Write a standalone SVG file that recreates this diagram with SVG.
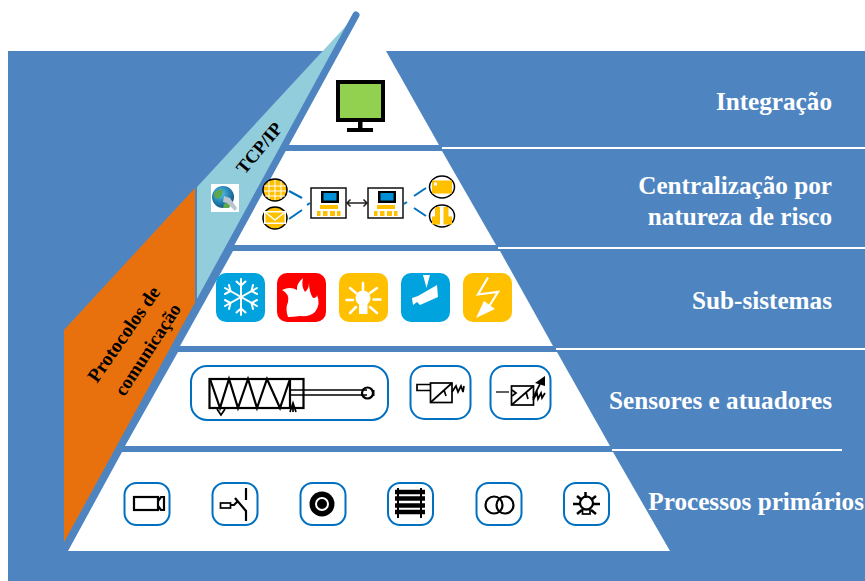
<svg xmlns="http://www.w3.org/2000/svg" width="865" height="581" viewBox="0 0 865 581">
<defs>
<style>
.lab{font-family:"Liberation Serif","Times New Roman",serif;font-weight:700;font-size:25.2px;fill:#fff;text-anchor:end}
.rot{font-family:"Liberation Serif","Times New Roman",serif;font-weight:700;fill:#000;text-anchor:middle}
.band{fill:#fff}
.frame{fill:#fff;stroke:#0070C0;stroke-width:2}
.tile{stroke:none}
.wl{fill:none;stroke:#fff;stroke-linecap:round;stroke-linejoin:round}
.k{fill:none;stroke:#000;stroke-width:2.2}
.k1{fill:none;stroke:#000;stroke-width:1.7}
.y{fill:#FFC000}
.dash{stroke:#0070C0;stroke-width:2;fill:none}
.disc{fill:#FFC000;stroke:#000;stroke-width:1.5}
.white-rule{stroke:#fff;stroke-width:2}
</style>
<radialGradient id="globe" cx="0.4" cy="0.35" r="0.7"><stop offset="0" stop-color="#5CC0E8"/><stop offset="0.6" stop-color="#1F7FB0"/><stop offset="1" stop-color="#174F78"/></radialGradient>
<g id="ctrl">
<rect x="0" y="0" width="35" height="30" fill="#fff" stroke="#111" stroke-width="1.500"/>
<rect x="10" y="3" width="18" height="12" fill="#000"/>
<rect x="12.500" y="5" width="13" height="7.500" fill="#0090D8"/>
<rect x="9" y="17" width="18" height="4" class="y"/>
<rect x="6" y="23" width="3.500" height="5" class="y"/>
<rect x="12" y="23" width="4.500" height="5" class="y"/>
<rect x="19" y="23" width="5" height="5" class="y"/>
<rect x="26" y="23" width="3.500" height="5" class="y"/>
</g>
</defs>
<rect id="background" x="8" y="51" width="857" height="530" fill="#4E85C1"/>
<g id="layers">
<polygon id="band1" class="band" points="360,14 364,14 386,51 439,145 288,145"/>
<polygon id="band2" class="band" points="285,151 442,151 496,245 232,245"/>
<polygon id="band3" class="band" points="233,251 500,251 553,346 180,346"/>
<polygon id="band4" class="band" points="178,352 557,352 610,446 125,446"/>
<polygon id="band5" class="band" points="122,452 613,452 670,551 68,551"/>
</g>
<polygon id="tcp-wedge" points="357,14 197,187 197,306" fill="#92CDDC"/>
<polygon id="protocol-wedge" points="64,330 195,188 195,306 64,545" fill="#E9710D"/>
<g id="connectors">
<line x1="356" y1="15" x2="66" y2="546" stroke="#4E85C1" stroke-width="7" stroke-linecap="round"/>
<line class="dash" x1="289" y1="191" x2="302" y2="198"/>
<line class="dash" x1="289" y1="219" x2="302" y2="210"/>
<line class="dash" x1="307" y1="205" x2="310" y2="203"/>
<line class="dash" x1="414" y1="196" x2="426" y2="188"/>
<line class="dash" x1="414" y1="208" x2="426" y2="216"/>
<line class="dash" x1="404" y1="204" x2="407" y2="202"/>
<path d="M347 203H367M350.500 199.500l-3.500 3.500 3.500 3.500M363.500 199.500l3.500 3.500-3.500 3.500" fill="none" stroke="#222" stroke-width="1.500"/>
</g>
<g id="rules">
<line class="white-rule" x1="442" y1="148" x2="865" y2="148"/>
<line class="white-rule" x1="498" y1="248" x2="865" y2="248"/>
<line class="white-rule" x1="556" y1="349" x2="865" y2="349"/>
<line class="white-rule" x1="612" y1="450" x2="842" y2="450"/>
</g>
<g id="monitor">
<rect x="338" y="82" width="45" height="38" fill="#92D050" stroke="#000" stroke-width="4"/>
<rect x="358" y="122" width="4.500" height="7" fill="#000"/>
<rect x="347" y="128" width="26" height="4" fill="#000"/>
</g>
<g id="globe-icon">
<rect x="211" y="184" width="28" height="28" fill="#fff"/>
<circle cx="223" cy="197" r="11" fill="url(#globe)"/>
<path d="M214 193q5-5 9-3l-1 5-4 4-3-1zM224 204q4-3 8-1l-3 5-6 0z" fill="#5DA84A"/>
<path d="M224 196l6 2 7 10-2 3-8-8-4-1z" fill="#B9C4CC"/>
</g>
<g id="band2-icons">
<g id="icon-web">
<ellipse cx="275" cy="190" rx="12" ry="11" class="disc"/>
<path d="M275 180v20M269 181v18M281 181v18M264 186h22M264 191h22M265 196h20" fill="none" stroke="#fff" stroke-width="1"/>
</g>
<g id="icon-mail">
<ellipse cx="275" cy="218" rx="12" ry="11" class="disc"/>
<rect x="264" y="211" width="22" height="13" fill="#fff"/>
<path d="M265.500 212.500H284.500V222.500H265.500z" class="y"/>
<path d="M265 212l10 8 10-8" fill="none" stroke="#fff" stroke-width="1.500"/>
</g>
<g id="icon-card">
<ellipse cx="442" cy="187" rx="12.500" ry="11" fill="#fff" stroke="#000" stroke-width="1.500"/>
<rect x="432" y="180.500" width="20" height="13" class="y"/>
<rect x="434" y="182.500" width="3" height="3" fill="#fff"/>
</g>
<g id="icon-door">
<ellipse cx="442" cy="216" rx="12.500" ry="11" fill="#fff" stroke="#000" stroke-width="1.500"/>
<path d="M432 224.500v-8h3v-9.500h5v17.500zM443.500 224.500v-17.500h5v9.500h3.500v8z" class="y"/>
</g>
<use href="#ctrl" x="311" y="188"/>
<use href="#ctrl" x="368" y="188"/>
</g>
<g id="band3-icons">
<g id="icon-frost">
<rect class="tile" x="216" y="273" width="49" height="49" rx="10" fill="#00A3DD"/>
<g class="wl" stroke-width="2">
<path d="M241 279V315M225 288L257 306M225 306L257 288"/>
<path d="M236.500 281.500l4.500 4 4.500-4M236.500 312.500l4.500-4 4.500 4M225 294l5.500-3-1.500-6M257 300l-5.500 3 1.500 6M225 300l5.500 3-1.500 6M257 294l-5.500-3 1.500-6"/>
</g>
</g>
<g id="icon-fire">
<rect class="tile" x="277" y="273" width="49" height="49" rx="10" fill="#FF0000"/>
<path d="M288 317Q285 309 288 302Q290 294 282 290Q290 286 297 290Q296 284 303 278Q301 286 305 292Q309 289 309 283Q309 292 313 298Q317 298 317 295Q321 304 315 312Q310 317 300 316Q293 317 288 317z" fill="#fff"/>
</g>
<g id="icon-light">
<rect class="tile" x="339" y="273" width="49" height="49" rx="10" fill="#FFC000"/>
<circle cx="363" cy="298" r="7.500" fill="#fff"/>
<rect x="359" y="304" width="8.500" height="10" fill="#fff"/>
<g class="wl" stroke-width="2.500">
<path d="M363 283V290M350 288L356 293M377 288L370 293M346.500 300H353M373.500 299.500H380.500M350 313L356 307M377 313L370 307"/>
</g>
</g>
<g id="icon-cam">
<rect class="tile" x="401" y="273" width="49" height="49" rx="10" fill="#00A3DD"/>
<path d="M423 275H430L426.500 288z" fill="#fff"/>
<path d="M412 298L418 296 437 285 438 297 420 305 417 302 413 305z" fill="#fff"/>
</g>
<g id="icon-power">
<rect class="tile" x="463" y="273" width="49" height="49" rx="10" fill="#FFC000"/>
<path d="M488 277.500L478 294.500 498 292 488 308" fill="none" stroke="#fff" stroke-width="2.200"/>
<path d="M476 318L484 301 495 309z" fill="#fff"/>
</g>
</g>
<g id="band4-icons">
<g id="cylinder">
<rect class="frame" x="191" y="366" width="197" height="54" rx="16"/>
<rect class="k" x="209.500" y="379" width="94" height="29"/>
<path d="M210 379L220 408 229 379 238 408 248 379 257 408 267 379 280 408 290 379V408" class="k"/>
<path d="M290 390H367M290 395H367" class="k1"/>
<circle cx="367.500" cy="393" r="5.500" class="k"/>
<rect x="372" y="390" width="2.500" height="6" fill="#000"/>
<path d="M217 409L221 415 225 409M290 412L293 403 296 412M293 404V412" class="k1"/>
</g>
<g id="sensor">
<rect class="frame" x="410.500" y="366" width="60" height="53" rx="14"/>
<rect class="k1" x="430.500" y="383" width="21.500" height="19.500"/>
<path d="M431 402L452 383M444 390L446 396" class="k1"/>
<path d="M430 384.500H417V390.500H430" class="k1"/>
<path d="M452 392L456 386 458 392 461 386 463 392 464 386" class="k1"/>
</g>
<g id="actuator">
<rect class="frame" x="490.500" y="366" width="60" height="53" rx="14"/>
<path d="M496 392H509" stroke="#444" stroke-width="1.700"/>
<rect class="k1" x="511.500" y="386" width="22" height="19"/>
<path d="M511.500 405L533.500 386M526 392L528 399M512 390L516 393 512 396" class="k1"/>
<path d="M533 400L537 393 538 399 541 393 542 398 545 393" class="k1"/>
<path d="M535 383L545 376V386z" fill="#000"/>
<path d="M533 398L540 384" class="k1"/>
</g>
</g>
<g id="band5-icons">
<g id="p-camera">
<rect class="frame" x="124.500" y="483" width="45" height="42" rx="12"/>
<rect class="k" x="134" y="497" width="24" height="13"/>
<path d="M158 501L161 497H164V510H161L158 506" fill="none" stroke="#000" stroke-width="2.200"/>
</g>
<g id="p-switch">
<rect class="frame" x="212.500" y="483" width="45" height="42" rx="12"/>
<rect class="k1" x="220.500" y="503" width="10" height="5"/>
<path d="M231 505H234L238 501M235 498L246 511V521M246 488V500" class="k"/>
</g>
<g id="p-lens">
<rect class="frame" x="300.500" y="483" width="45" height="42" rx="12"/>
<circle cx="322" cy="504" r="12.500" fill="#000"/>
<circle cx="322" cy="504" r="6" fill="#000" stroke="#fff" stroke-width="2"/>
</g>
<g id="p-rail">
<rect class="frame" x="388" y="483" width="45" height="42" rx="12"/>
<path d="M395 492H425M395 498.500H425M395 505.500H425M395 512H425" stroke="#000" stroke-width="4.500"/>
<path d="M398 488V518M421 488V518" stroke="#000" stroke-width="2"/>
</g>
<g id="p-rings">
<rect class="frame" x="476.500" y="483" width="45" height="42" rx="12"/>
<circle cx="494" cy="505" r="8.500" class="k"/>
<circle cx="505" cy="505" r="8.500" class="k"/>
</g>
<g id="p-bulb">
<rect class="frame" x="564" y="483" width="45" height="42" rx="12"/>
<circle cx="586.500" cy="503" r="6.500" class="k"/>
<rect class="k1" x="582.500" y="509.500" width="7.500" height="4.500"/>
<path d="M585.500 492V498M573 504H580M593 504H600M577 496L582 500M596 496L591 500M577 514L582 510M596 514L591 510" fill="none" stroke="#000" stroke-width="2.500"/>
</g>
</g>
<g id="labels">
<text class="lab" x="832" y="110">Integração</text>
<text class="lab" x="832" y="194">Centralização por</text>
<text class="lab" x="832" y="225">natureza de risco</text>
<text class="lab" x="832" y="309">Sub-sistemas</text>
<text class="lab" x="832" y="409">Sensores e atuadores</text>
<text class="lab" x="864" y="510">Processos primários</text>
<text class="rot" font-size="18.5" transform="translate(264,152) rotate(-50)">TCP/IP</text>
<text class="rot" font-size="19.5" transform="translate(129,338) rotate(-55)">Protocolos de</text>
<text class="rot" font-size="19" transform="translate(153,353) rotate(-57)">comunicação</text>
</g>
</svg>
